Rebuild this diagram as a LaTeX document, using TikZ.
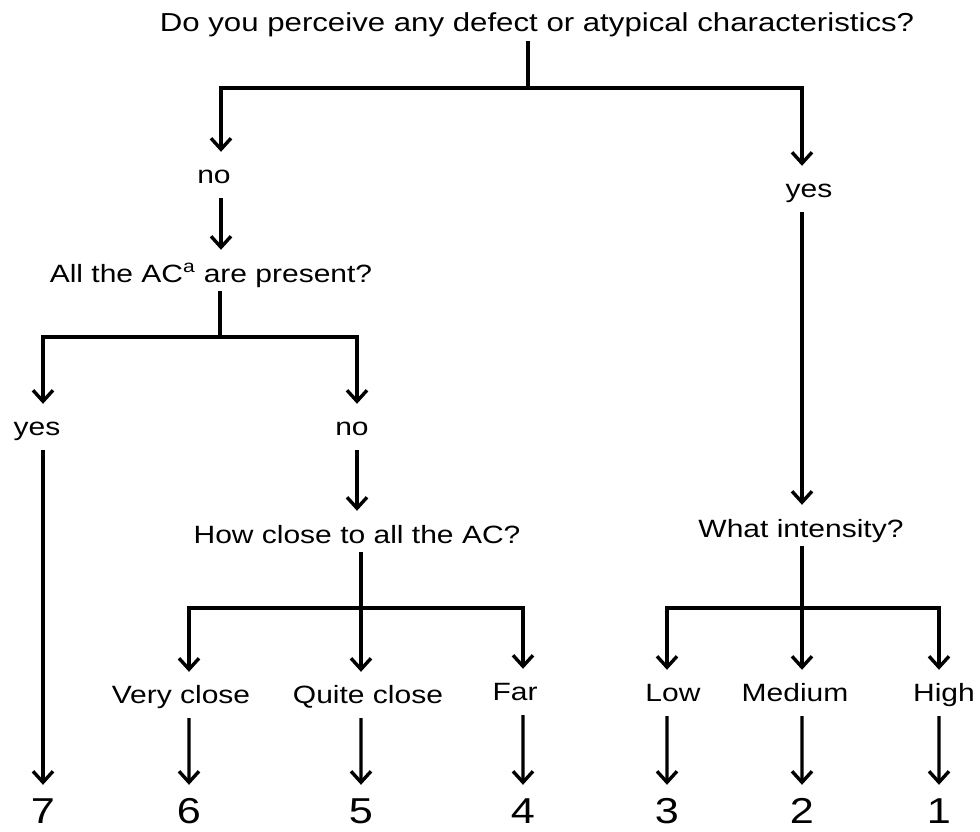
\documentclass[tikz,border=0pt]{standalone}
\usepackage{fontspec}
\setmainfont{Liberation Sans}
\usepackage{tikz}
\usetikzlibrary{arrows.meta, positioning, calc}

\begin{document}
\begin{tikzpicture}[x=1pt, y=-1pt,
    bar/.style={line width=3.2pt, line cap=rect},
    arr/.style={line width=3.2pt, -{Straight Barb[length=11pt,width=20pt,line width=3.4pt]}},
    question/.style={font=\fontsize{25}{30}\selectfont, xscale=1.2, anchor=base,
      text height=32pt, text depth=10pt, inner ysep=0pt, inner xsep=2pt},
    answer/.style={font=\fontsize{25}{30}\selectfont, xscale=1.2, anchor=base,
      text height=18pt, text depth=2pt, inner ysep=13pt, inner xsep=2pt},
    score/.style={font=\fontsize{36}{40}\selectfont, xscale=1.2, anchor=base,
      text height=38pt, text depth=0pt, inner ysep=0pt, inner xsep=2pt}
  ]
    \useasboundingbox (0,0) rectangle (980,832);

    % Top question
    \node[question, font=\fontsize{26}{30}\selectfont, text height=20pt,
          text depth=6pt, inner ysep=4pt] (top) at (537,32)
      {Do you perceive any defect or atypical characteristics?};

    % First answers
    \node[answer] (no1)  at (214,183) {no};
    \node[answer] (yes1) at (809,197) {yes};

    % Left branch
    \node[question] (allac) at (211,282) {All the AC\textsuperscript{a} are present?};
    \node[answer] (yes2) at (37,435) {yes};
    \node[answer] (no2)  at (352,435) {no};
    \node[question] (close) at (357,543) {How close to all the AC?};
    \node[answer] (vclose) at (181,703) {Very close};
    \node[answer] (qclose) at (368,703) {Quite close};
    \node[answer] (far)    at (515,700) {Far};

    % Right branch
    \node[question] (intens) at (801,537) {What intensity?};
    \node[answer] (low) at (673,701) {Low};
    \node[answer] (med) at (795,701) {Medium};
    \node[answer] (high) at (944,701) {High};

    % Scores
    \node[score] (s7) at (43,823) {7};
    \node[score] (s6) at (189,823) {6};
    \node[score] (s5) at (361,823) {5};
    \node[score] (s4) at (523,823) {4};
    \node[score] (s3) at (667,823) {3};
    \node[score] (s2) at (802,823) {2};
    \node[score] (s1) at (939,823) {1};

    % Junctions
    \coordinate (j0)  at (528,88);
    \coordinate (j0l) at (221,88);
    \coordinate (j0r) at (802,88);
    \coordinate (j1)  at (220,337);
    \coordinate (j1l) at (43,337);
    \coordinate (j1r) at (357,337);
    \coordinate (j2)  at (361,608);
    \coordinate (j2l) at (189,608);
    \coordinate (j2r) at (523,608);
    \coordinate (j3)  at (802,608);
    \coordinate (j3l) at (667,608);
    \coordinate (j3r) at (939,608);

    % Bars
    \draw[bar] (top.south -| j0) -- (j0);
    \draw[bar] (j0l) -- (j0r);
    \draw[bar] (allac.south -| j1) -- (j1);
    \draw[bar] (j1l) -- (j1r);
    \draw[bar] (close.south -| j2) -- (j2);
    \draw[bar] (j2l) -- (j2r);
    \draw[bar] (intens.south -| j3) -- (j3);
    \draw[bar] (j3l) -- (j3r);

    % Arrows
    \draw[arr] (j0l) -- (j0l |- no1.north);
    \draw[arr] (j0r) -- (j0r |- yes1.north);
    \draw[arr] (no1.south -| j0l) -- (j0l |- allac.north);
    \draw[arr] (yes1.south -| j0r) -- (j0r |- intens.north);
    \draw[arr] (j1l) -- (j1l |- yes2.north);
    \draw[arr] (j1r) -- (j1r |- no2.north);
    \draw[arr] (yes2.south -| s7) -- (s7);
    \draw[arr] (no2.south -| j1r) -- (j1r |- close.north);
    \draw[arr] (j2l) -- (j2l |- vclose.north);
    \draw[arr] (j2) -- (j2 |- qclose.north);
    \draw[arr] (j2r) -- (j2r |- far.north);
    \draw[arr] (j3l) -- (j3l |- low.north);
    \draw[arr] (j3) -- (j3 |- med.north);
    \draw[arr] (j3r) -- (j3r |- high.north);
    \draw[arr] (vclose.south -| s6) -- (s6);
    \draw[arr] (qclose.south -| s5) -- (s5);
    \draw[arr] (far.south -| s4) -- (s4);
    \draw[arr] (low.south -| s3) -- (s3);
    \draw[arr] (med.south -| s2) -- (s2);
    \draw[arr] (high.south -| s1) -- (s1);
  \end{tikzpicture}
\end{document}
